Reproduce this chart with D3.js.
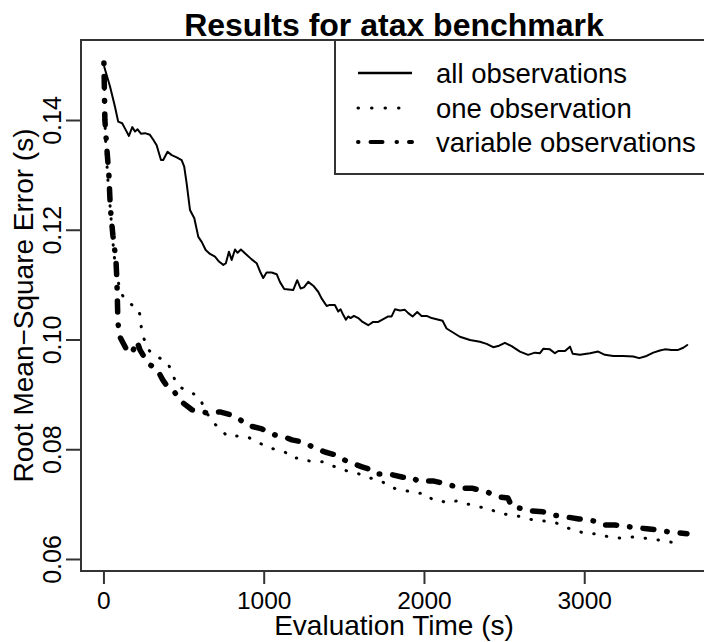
<!DOCTYPE html>
<html>
<head>
<meta charset="utf-8">
<script src="https://cdn.jsdelivr.net/npm/d3@7"></script>
<style>
  html, body { margin: 0; padding: 0; background: #fff; }
  svg { display: block; font-family: "Liberation Sans", Arial, Helvetica, sans-serif; }
</style>
</head>
<body>
<svg id="chart" width="704" height="642"></svg>
<script>
// ---- Data ----
const title = "Results for atax benchmark";
const xLabel = "Evaluation Time (s)";
const yLabel = "Root Mean\u2212Square Error (s)";
const xTicks = [0, 1000, 2000, 3000];
const yTicks = [0.06, 0.08, 0.10, 0.12, 0.14];
const seriesNames = ["all observations", "one observation", "variable observations"];

const timeAll = [5,41,72,92,117,139,159,180,197,213,234,259,290,311,332,359,373,400,426,457,488,504,519,540,567,592,613,638,665,696,721,748,764,783,800,821,837,858,883,925,956,977,997,1018,1050,1081,1101,1128,1184,1209,1230,1251,1278,1309,1340,1361,1393,1413,1444,1465,1480,1496,1513,1527,1542,1563,1590,1617,1652,1683,1715,1746,1777,1798,1819,1850,1881,1902,1929,1958,1985,2017,2048,2079,2116,2141,2224,2287,2349,2391,2432,2463,2505,2547,2599,2650,2692,2724,2744,2786,2817,2838,2880,2911,2928,2973,3036,3087,3129,3181,3243,3306,3343,3389,3431,3472,3503,3545,3586,3618,3643];
const rmseAll = [0.1497,0.1461,0.1424,0.1397,0.1394,0.1382,0.1371,0.1387,0.1379,0.1383,0.1375,0.1376,0.1373,0.1364,0.1354,0.1327,0.1327,0.1342,0.1336,0.1332,0.1327,0.1315,0.1285,0.1236,0.1221,0.1187,0.1178,0.1163,0.1156,0.1151,0.1142,0.1136,0.1139,0.1160,0.1145,0.1164,0.1158,0.1164,0.1157,0.1146,0.1139,0.1124,0.1112,0.1122,0.1122,0.1119,0.1105,0.1092,0.1090,0.1108,0.1093,0.1095,0.1105,0.1098,0.1087,0.1075,0.1061,0.1063,0.1063,0.1051,0.1055,0.1045,0.1036,0.1042,0.1039,0.1043,0.1039,0.1032,0.1026,0.1032,0.1032,0.1037,0.1042,0.1042,0.1055,0.1053,0.1054,0.1048,0.1042,0.1050,0.1043,0.1043,0.1039,0.1037,0.1034,0.1020,0.1005,0.0999,0.0996,0.0992,0.0986,0.0988,0.0994,0.0988,0.0978,0.0972,0.0976,0.0975,0.0983,0.0982,0.0975,0.0979,0.0979,0.0987,0.0974,0.0972,0.0975,0.0978,0.0972,0.0970,0.0970,0.0969,0.0966,0.0970,0.0976,0.0980,0.0982,0.0981,0.0981,0.0985,0.0990];

const timeOne = [3,6,9,16,28,41,53,66,84,103,134,178,215,228,234,246,271,309,352,402,434,459,508,552,602,633,683,727,770,851,901,964,1020,1082,1132,1176,1226,1276,1332,1369,1413,1469,1532,1594,1650,1694,1744,1788,1850,1894,1956,2006,2050,2081,2143,2206,2274,2337,2399,2462,2543,2611,2680,2755,2823,2892,2954,3017,3085,3154,3229,3304,3379,3454,3529,3616];
const rmseOne = [0.1504,0.1455,0.1400,0.1345,0.1291,0.1245,0.1200,0.1154,0.1118,0.1090,0.1072,0.1063,0.1057,0.1045,0.1026,0.1008,0.0985,0.0972,0.0966,0.0957,0.0935,0.0917,0.0908,0.0903,0.0893,0.0872,0.0848,0.0839,0.0824,0.0824,0.0822,0.0813,0.0804,0.0799,0.0795,0.0784,0.0784,0.0779,0.0777,0.0777,0.0771,0.0766,0.0759,0.0755,0.0748,0.0746,0.0740,0.0731,0.0726,0.0724,0.0720,0.0720,0.0709,0.0709,0.0702,0.0706,0.0700,0.0695,0.0693,0.0684,0.0680,0.0677,0.0671,0.0669,0.0666,0.0657,0.0651,0.0646,0.0646,0.0640,0.0638,0.0640,0.0638,0.0635,0.0631,0.0629];

const timeVar = [3,6,9,22,34,41,47,59,78,84,87,90,97,122,153,178,209,228,259,290,334,371,402,446,490,552,615,652,727,802,839,895,989,1070,1132,1176,1245,1320,1382,1444,1526,1613,1675,1707,1781,1869,1925,1962,2062,2162,2224,2299,2393,2474,2524,2549,2630,2649,2742,2805,2880,2967,3066,3116,3191,3298,3391,3454,3535,3641];
const rmseVar = [0.1504,0.1455,0.1400,0.1345,0.1300,0.1254,0.1227,0.1190,0.1145,0.1108,0.1072,0.1036,0.1008,0.0994,0.0977,0.0975,0.0997,0.0981,0.0966,0.0954,0.0946,0.0926,0.0913,0.0903,0.0886,0.0872,0.0868,0.0866,0.0868,0.0862,0.0857,0.0844,0.0837,0.0826,0.0822,0.0817,0.0813,0.0802,0.0795,0.0790,0.0777,0.0768,0.0762,0.0755,0.0755,0.0749,0.0749,0.0742,0.0742,0.0735,0.0729,0.0729,0.0722,0.0713,0.0711,0.0695,0.0691,0.0688,0.0686,0.0680,0.0677,0.0673,0.0669,0.0662,0.0662,0.0658,0.0655,0.0653,0.0649,0.0646];

// ---- Layout ----
const W = 704, H = 642;
const plot = { left: 81, right: 707, top: 40, bottom: 571 };
const ink = "#000";
const frameColor = "#333";

const svg = d3.select("#chart");
svg.append("rect").attr("width", W).attr("height", H).attr("fill", "#fff");

const x = d3.scaleLinear().domain([-140, 3766]).range([plot.left, plot.right]);
const y = d3.scaleLinear().domain([0.05781, 0.15458]).range([plot.bottom, plot.top]);

// Series
const series = [
  { name: seriesNames[0], t: timeAll, v: rmseAll, width: 2, dash: null, cap: "round" },
  { name: seriesNames[1], t: timeOne, v: rmseOne, width: 3, dash: "0.5 12.5", cap: "round" },
  { name: seriesNames[2], t: timeVar, v: rmseVar, width: 5.5, dash: "0.5 13 11 13", cap: "round" }
];

const line = d3.line().x(d => x(d[0])).y(d => y(d[1]));
series.forEach(s => {
  const pts = s.t.map((t, i) => [t, s.v[i]]);
  svg.append("path")
    .attr("d", line(pts))
    .attr("fill", "none")
    .attr("stroke", ink)
    .attr("stroke-width", s.width)
    .attr("stroke-linecap", s.cap)
    .attr("stroke-linejoin", "round")
    .attr("stroke-dasharray", s.dash);
});

// Frame
svg.append("rect")
  .attr("x", plot.left).attr("y", plot.top)
  .attr("width", plot.right - plot.left).attr("height", plot.bottom - plot.top)
  .attr("fill", "none").attr("stroke", frameColor).attr("stroke-width", 2);

// X axis
const xAxis = svg.append("g")
  .attr("transform", `translate(0,${plot.bottom})`)
  .style("color", frameColor)
  .call(d3.axisBottom(x).tickValues(xTicks).tickFormat(d3.format("d")).tickSize(13).tickPadding(8));
xAxis.select(".domain").remove();
xAxis.selectAll("line").attr("stroke-width", 2);
xAxis.selectAll("text").attr("fill", ink).style("font-size", "24.5px").style("font-family", "Liberation Sans, Arial, sans-serif");

// Y axis
const yAxis = svg.append("g")
  .attr("transform", `translate(${plot.left},0)`)
  .style("color", frameColor)
  .call(d3.axisLeft(y).tickValues(yTicks).tickFormat(d3.format(".2f")).tickSize(15));
yAxis.select(".domain").remove();
yAxis.selectAll("line").attr("stroke-width", 2);
yAxis.selectAll("text")
  .attr("fill", ink)
  .attr("transform", "rotate(-90)")
  .attr("x", 0).attr("y", -20).attr("dy", null)
  .style("text-anchor", "middle")
  .style("font-size", "25px").style("font-family", "Liberation Sans, Arial, sans-serif");

// Titles
svg.append("text")
  .attr("x", (plot.left + plot.right) / 2).attr("y", 36)
  .attr("text-anchor", "middle")
  .attr("font-weight", "bold").attr("font-size", 32).attr("fill", ink)
  .text(title);

svg.append("text")
  .attr("x", (plot.left + plot.right) / 2).attr("y", 635)
  .attr("text-anchor", "middle")
  .attr("font-size", 28).attr("fill", ink)
  .text(xLabel);

svg.append("text")
  .attr("transform", `translate(33,${(plot.top + plot.bottom) / 2}) rotate(-90)`)
  .attr("text-anchor", "middle")
  .attr("font-size", 28).attr("fill", ink)
  .text(yLabel);

// Legend
const legend = svg.append("g");
legend.append("rect")
  .attr("x", 335).attr("y", plot.top)
  .attr("width", 380).attr("height", 134)
  .attr("fill", "#fff").attr("stroke", frameColor).attr("stroke-width", 2);
const rowY = [73, 108, 142];
series.forEach((s, i) => {
  legend.append("line")
    .attr("x1", 358).attr("x2", 412)
    .attr("y1", rowY[i]).attr("y2", rowY[i])
    .attr("stroke", ink)
    .attr("stroke-width", i === 0 ? 2.5 : (i === 1 ? 3 : 4))
    .attr("stroke-linecap", i === 0 ? "butt" : "round")
    .attr("stroke-dasharray", i === 0 ? null : (i === 1 ? "0.5 13" : "0.5 12 12 14"));
  legend.append("text")
    .attr("x", 436).attr("y", rowY[i] + 10)
    .attr("font-size", 27.5).attr("fill", ink)
    .text(s.name);
});
</script>
</body>
</html>
